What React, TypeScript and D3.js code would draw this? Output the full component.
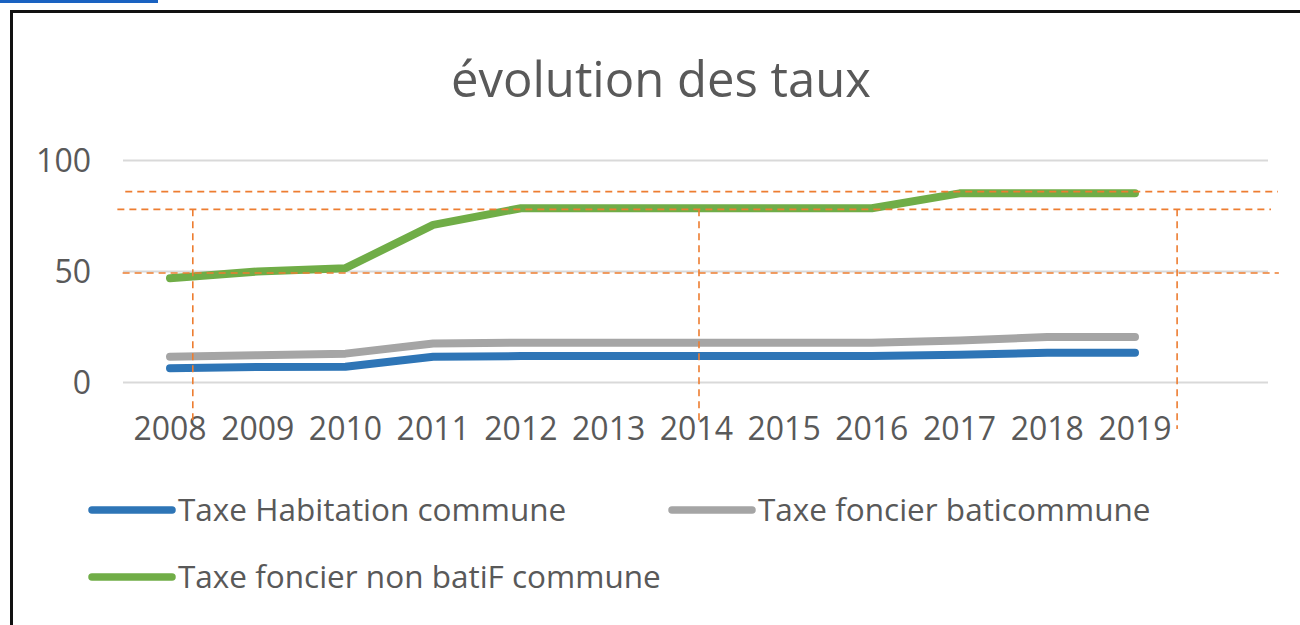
import React, { useEffect, useRef } from 'react'
import * as d3 from 'd3'

const years = [2008, 2009, 2010, 2011, 2012, 2013, 2014, 2015, 2016, 2017, 2018, 2019]
const habitation = [6.4, 7.0, 7.1, 11.6, 11.9, 11.9, 11.9, 11.9, 11.9, 12.5, 13.4, 13.4]
const bati = [11.6, 12.3, 13.0, 17.6, 17.9, 17.9, 17.9, 17.9, 17.9, 18.9, 20.5, 20.5]
const nonBati = [47, 50, 51.5, 71, 78.5, 78.5, 78.5, 78.5, 78.5, 85.2, 85.2, 85.2]
const yTicks = [0, 50, 100]

const seriesNames = ['Taxe Habitation commune', 'Taxe foncier baticommune', 'Taxe foncier non batiF commune']
const seriesColors = ['#2E75B6', '#A5A5A5', '#70AD47']

// hand drawn orange guides: [value, fromYear, toYear] and [year, fromValue, toValue]
const guideH = [
    [86, 2007.49, 2020.63],
    [78, 2007.4, 2020.55],
    [49.3, 2007.46, 2020.64]
]
const guideV = [
    [2008.26, 78, -19],
    [2014.03, 78, -18],
    [2019.48, 78, -21]
]

const W = 1300
const H = 625
const FONT = '"Open Sans", Lato, sans-serif'
const TEXT = '#595959'

export default function App() {
    const svgRef = useRef<SVGSVGElement | null>(null)

    useEffect(() => {
        const svg = d3.select(svgRef.current)
        svg.selectAll('*').remove()

        const x = d3.scaleLinear().domain([2008, 2019]).range([170, 1135])
        const y = d3.scaleLinear().domain([0, 100]).range([382.5, 160.5])

        // top-left blue strip and frame
        svg.append('rect').attr('x', 0).attr('y', 0).attr('width', 158).attr('height', 3).attr('fill', '#1a62c1')
        svg.append('rect')
            .attr('x', 11.5)
            .attr('y', 11.5)
            .attr('width', 1400)
            .attr('height', 800)
            .attr('fill', 'white')
            .attr('stroke', '#111')
            .attr('stroke-width', 3)

        svg.append('text')
            .attr('x', 661)
            .attr('y', 97)
            .attr('text-anchor', 'middle')
            .attr('font-family', FONT)
            .attr('font-size', 49)
            .attr('fill', TEXT)
            .text('évolution des taux')

        // gridlines
        svg.append('g')
            .selectAll('line')
            .data(yTicks)
            .join('line')
            .attr('x1', 123)
            .attr('x2', 1268)
            .attr('y1', (d) => y(d))
            .attr('y2', (d) => y(d))
            .attr('stroke', '#D9D9D9')
            .attr('stroke-width', 2)

        svg.append('g')
            .selectAll('text')
            .data(yTicks)
            .join('text')
            .attr('x', 91)
            .attr('y', (d) => y(d) + 11)
            .attr('text-anchor', 'end')
            .attr('font-family', FONT)
            .attr('font-size', 32)
            .attr('fill', TEXT)
            .text((d) => d)

        svg.append('g')
            .selectAll('text')
            .data(years)
            .join('text')
            .attr('x', (d) => x(d))
            .attr('y', 440)
            .attr('text-anchor', 'middle')
            .attr('font-family', FONT)
            .attr('font-size', 32)
            .attr('fill', TEXT)
            .text((d) => d)

        const line = d3
            .line<number>()
            .x((_, i) => x(years[i]))
            .y((d) => y(d))

        const allSeries = [habitation, bati, nonBati]
        const order = [1, 0, 2]
        order.forEach((k) => {
            svg.append('path')
                .attr('d', line(allSeries[k]))
                .attr('fill', 'none')
                .attr('stroke', seriesColors[k])
                .attr('stroke-width', 8)
                .attr('stroke-linecap', 'round')
                .attr('stroke-linejoin', 'round')
        })

        // orange dashed guides
        const g = svg.append('g').attr('stroke', '#ED7D31').attr('stroke-width', 1.6).attr('stroke-dasharray', '7,5')
        g.selectAll('line.h')
            .data(guideH)
            .join('line')
            .attr('class', 'h')
            .attr('x1', (d) => x(d[1]))
            .attr('x2', (d) => x(d[2]))
            .attr('y1', (d) => y(d[0]))
            .attr('y2', (d) => y(d[0]))
        g.selectAll('line.v')
            .data(guideV)
            .join('line')
            .attr('class', 'v')
            .attr('x1', (d) => x(d[0]))
            .attr('x2', (d) => x(d[0]))
            .attr('y1', (d) => y(d[1]))
            .attr('y2', (d) => y(d[2]))

        // legend
        const legendPos = [
            [88, 510],
            [668, 510],
            [88, 577]
        ]
        const lg = svg.append('g')
        seriesNames.forEach((name, i) => {
            const [lx, ly] = legendPos[i]
            lg.append('line')
                .attr('x1', lx + 4)
                .attr('x2', lx + 84)
                .attr('y1', ly)
                .attr('y2', ly)
                .attr('stroke', seriesColors[i])
                .attr('stroke-width', 7.5)
                .attr('stroke-linecap', 'round')
            lg.append('text')
                .attr('x', lx + 90)
                .attr('y', ly + 11)
                .attr('font-family', FONT)
                .attr('font-size', 31.5)
                .attr('fill', TEXT)
                .text(name)
        })
    }, [])

    return (
        <svg
            ref={svgRef}
            width={W}
            height={H}
            style={{ position: 'absolute', left: 0, top: 0, background: 'white', fontVariantLigatures: 'none' }}
        />
    )
}
